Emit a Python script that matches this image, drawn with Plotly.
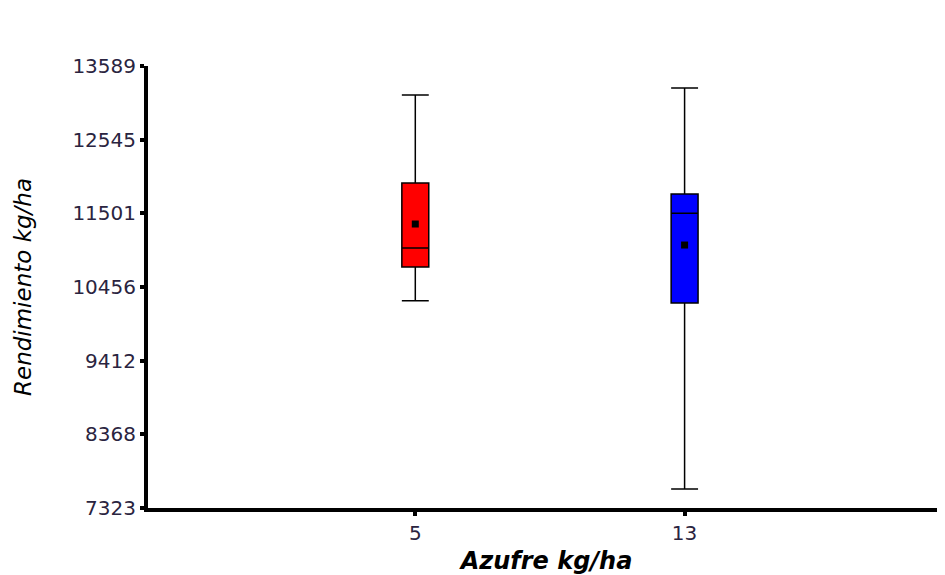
import plotly.graph_objects as go

# Data
categories = ["5", "13"]
cat_pos = [0, 1]
q1_vals = [10739, 10228]
median_vals = [11010, 11501]
q3_vals = [11930, 11774]
lower_whisker = [10260, 7591]
upper_whisker = [13178, 13277]
mean_vals = [11349, 11051]
fill_colors = ["#ff0000", "#0000ff"]

y_ticks = [7323, 8368, 9412, 10456, 11501, 12545, 13589]

FONT = "DejaVu Sans"

fig = go.Figure()
for i, cat in enumerate(categories):
    fig.add_trace(go.Box(
        x=[cat_pos[i]],
        q1=[q1_vals[i]], median=[median_vals[i]], q3=[q3_vals[i]],
        lowerfence=[lower_whisker[i]], upperfence=[upper_whisker[i]],
        width=0.1, whiskerwidth=1,
        fillcolor=fill_colors[i],
        line=dict(color="black", width=1.5),
        boxpoints=False, showlegend=False, name=cat,
        hoverinfo="skip",
    ))

fig.add_trace(go.Scatter(
    x=cat_pos, y=mean_vals, mode="markers",
    marker=dict(symbol="square", size=7, color="black"),
    showlegend=False, hoverinfo="skip",
))

fig.update_layout(
    width=937, height=567,
    margin=dict(l=140, r=0, t=58, b=67),
    paper_bgcolor="white", plot_bgcolor="white",
    font=dict(family=FONT, color="#222"),
)

fig.update_xaxes(
    range=[-0.9926, 1.967],
    tickmode="array", tickvals=cat_pos, ticktext=categories,
    showgrid=False, zeroline=False,
    showline=True, linecolor="black", linewidth=4,
    ticks="outside", ticklen=4, tickwidth=4, tickcolor="black",
    tickfont=dict(family=FONT, size=20, color="#2a2440"),
    title=dict(text="<b><i>Azufre kg/ha</i></b>",
               font=dict(family=FONT, size=24, color="black"), standoff=12),
)

fig.update_yaxes(
    range=[7323, 13589],
    tickmode="array", tickvals=y_ticks, ticktext=[str(v) for v in y_ticks],
    showgrid=False, zeroline=False,
    showline=True, linecolor="black", linewidth=4,
    ticks="outside", ticklen=4, tickwidth=4, tickcolor="black",
    tickfont=dict(family=FONT, size=20, color="#2a2440"),
    title=dict(text="<i>Rendimiento kg/ha</i>",
               font=dict(family=FONT, size=23, color="black"), standoff=35),
)

fig.write_html("out.html")
